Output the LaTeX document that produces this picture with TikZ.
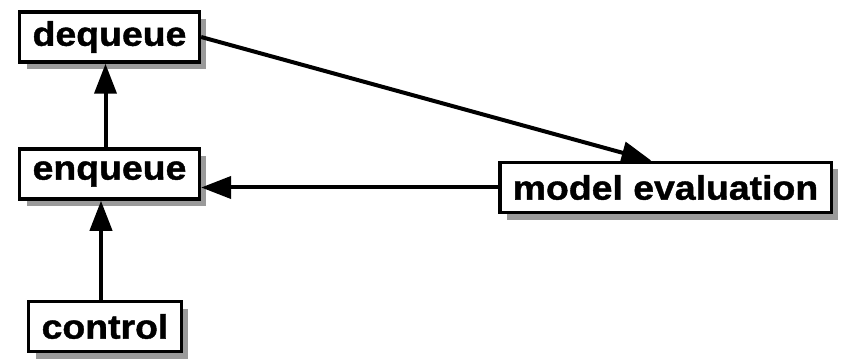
\documentclass[tikz,border=0pt]{standalone}
\usepackage{fontspec}
\newfontfamily\boxfont[FakeStretch=1.1, FakeBold=1.2]{Liberation Sans}
\usepackage{xcolor}
\definecolor{shadowgray}{HTML}{9A9A9A}
\usetikzlibrary{arrows.meta, positioning, calc, shadows}

\tikzset{
    modbox/.style={draw, line width=3.5pt, fill=white, inner xsep=13pt,
        minimum height=50pt,
        font=\boxfont\bfseries\fontsize{34}{34}\selectfont,
        drop shadow={shadow xshift=7pt, shadow yshift=-7pt,
            fill=shadowgray, opacity=1}},
    flow/.style={line width=4pt, -{Triangle[length=30pt, width=22pt]}},
}

\begin{document}
\begin{tikzpicture}[x=1pt, y=1pt]
    \useasboundingbox (0,0) rectangle (841,362);
    % Modules, placed at fixed coordinates (origin bottom left).
    \node[modbox] (dequeue) at (109.5, 325) {dequeue};
    \node[modbox] (enqueue) at (109.5, 188) {enqueue};
    \node[modbox] (control) at (105, 35.5)  {control};
    \node[modbox] (model)   at (665.5, 174.5) {model evaluation};
    % Data flow between the modules.
    \draw[flow] (dequeue.east) -- ([xshift=-14pt]model.north);
    \draw[flow] (model.west) -- (model.west -| enqueue.east);
    \draw[flow] ([xshift=-4pt]enqueue.north) -- ([xshift=-4pt]dequeue.south);
    \draw[flow] ([xshift=-4pt]control.north) -- ([xshift=-4pt]control.north |- enqueue.south);
\end{tikzpicture}
\end{document}
